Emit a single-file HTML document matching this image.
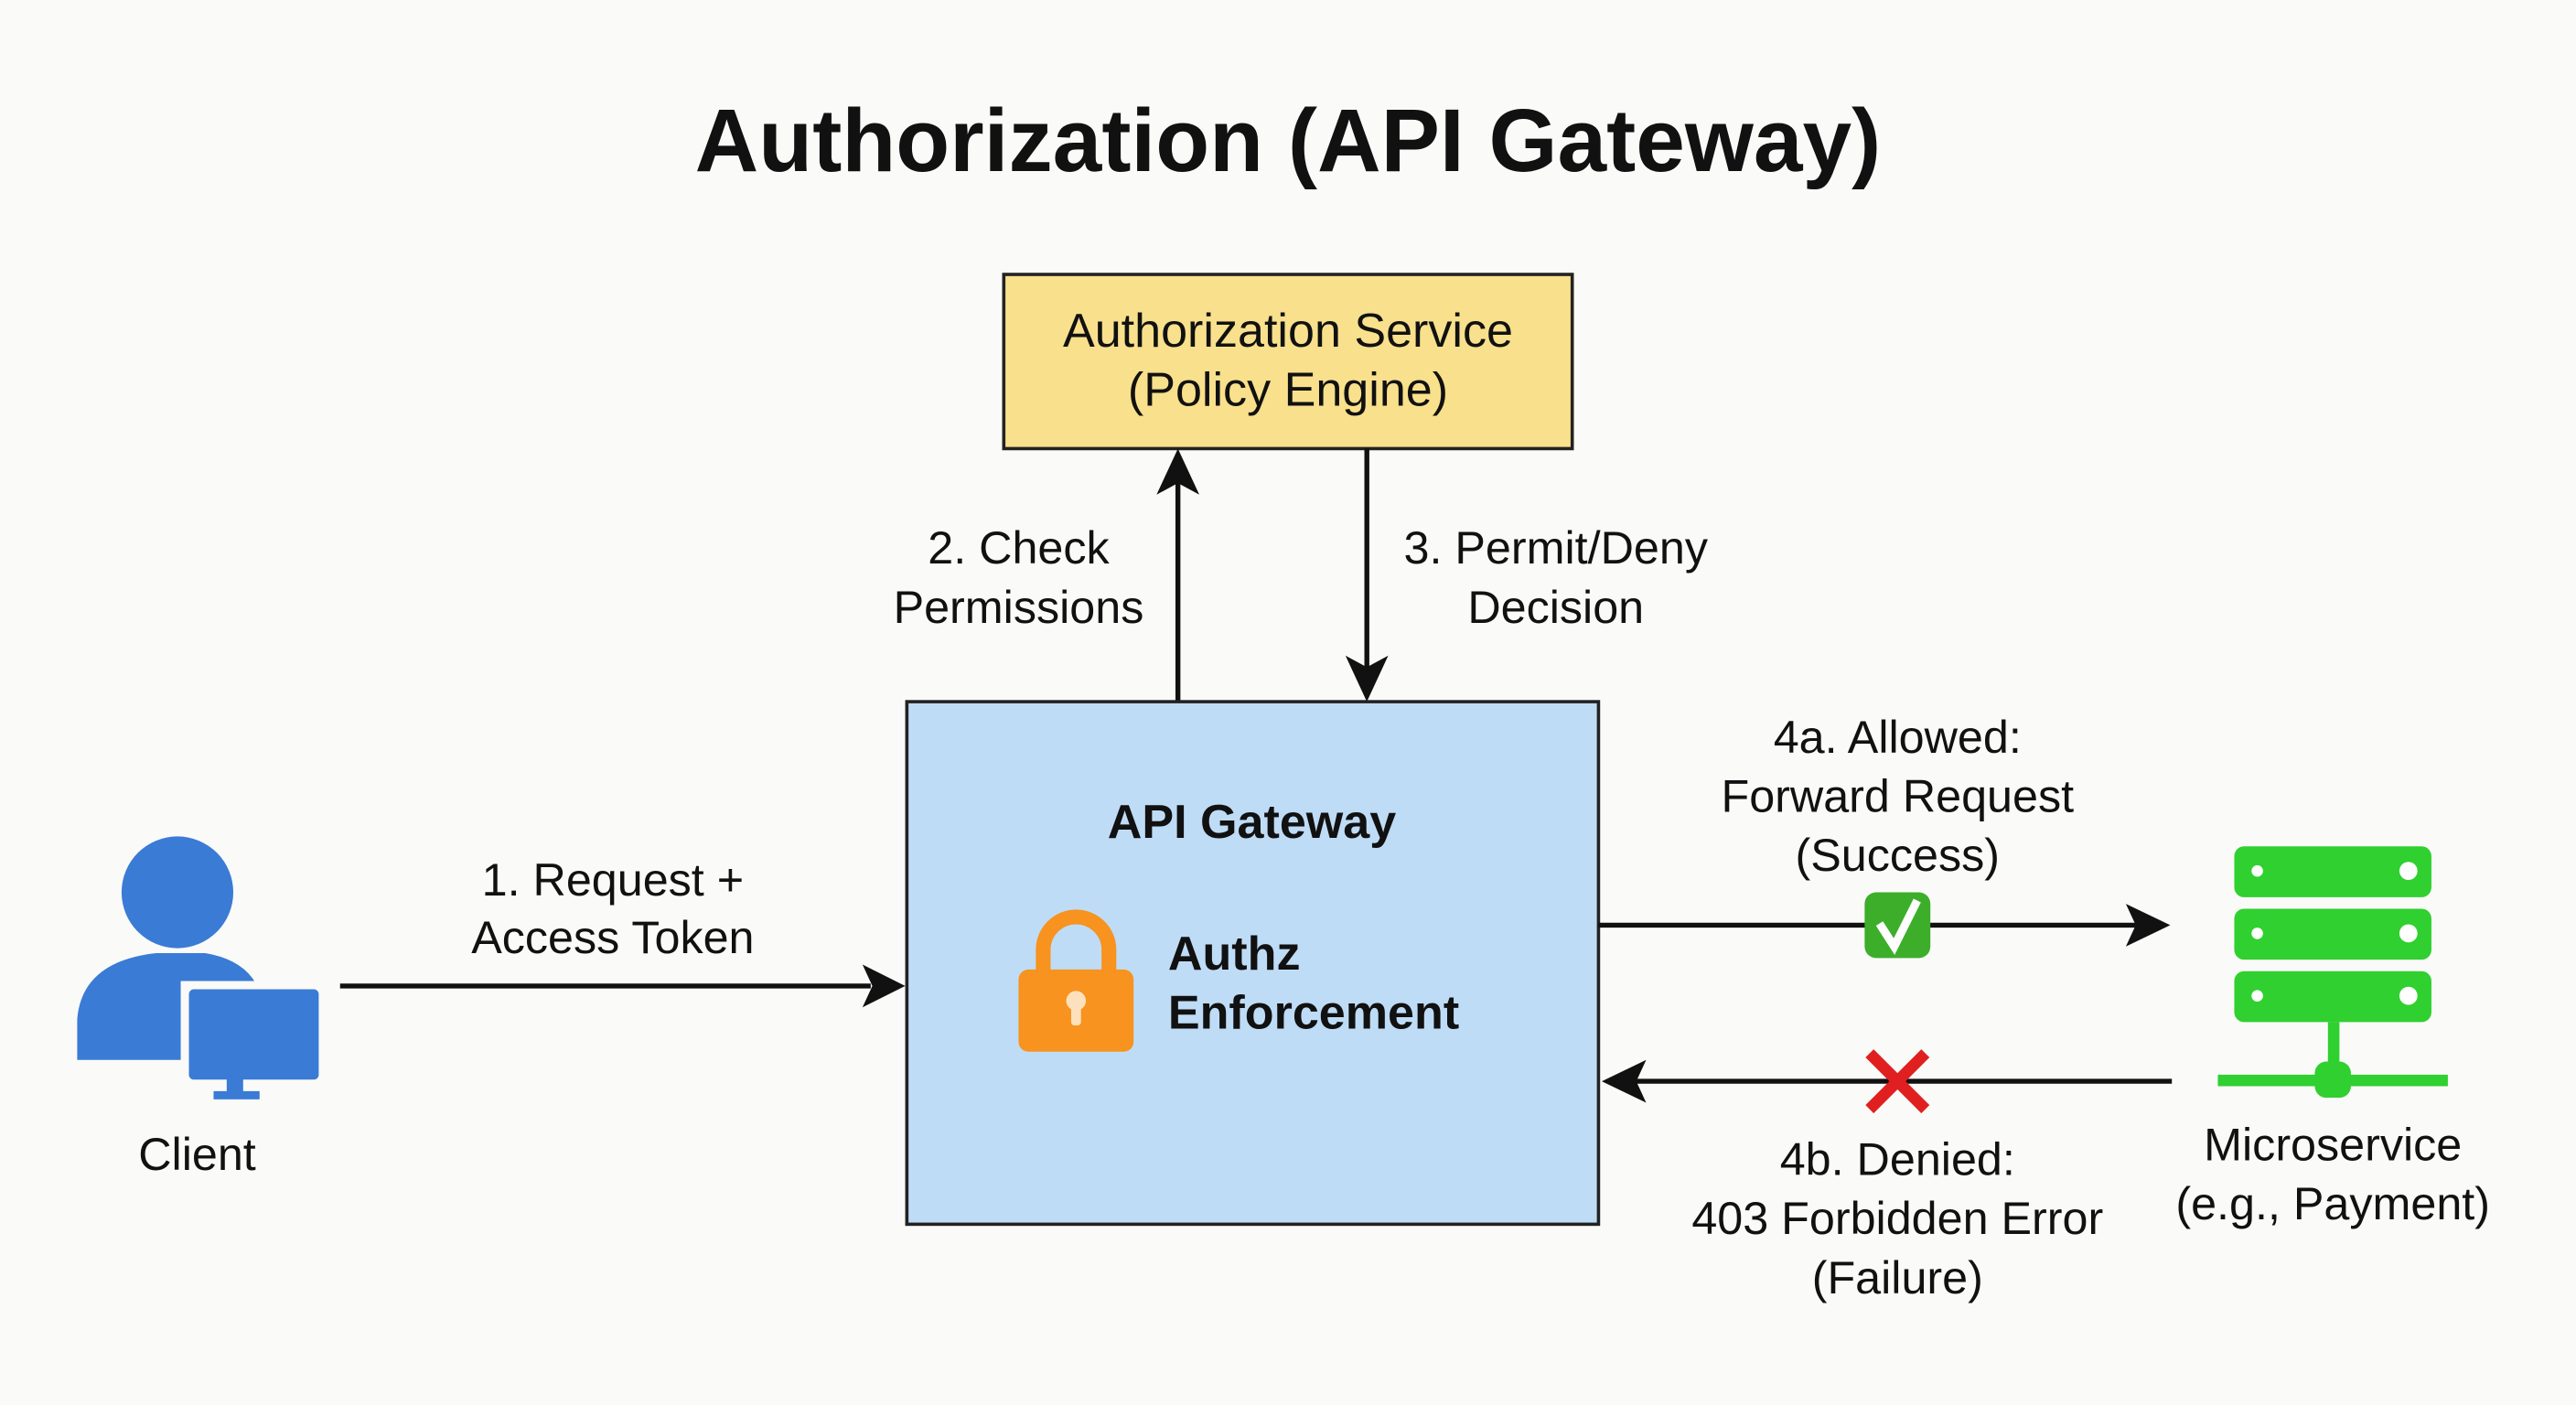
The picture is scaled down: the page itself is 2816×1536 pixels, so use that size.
<!DOCTYPE html>
<html><head><meta charset="utf-8"><style>
html,body{margin:0;padding:0;background:#fafaf8;}
svg{display:block;}
text{font-family:"Liberation Sans",Arial,sans-serif;fill:#111;}
</style></head><body>
<svg width="2816" height="1536" viewBox="0 0 1568 855" preserveAspectRatio="none" xmlns="http://www.w3.org/2000/svg">
<defs>
<marker id="ah" viewBox="0 0 10 10" refX="9" refY="5" markerWidth="9" markerHeight="9" markerUnits="userSpaceOnUse" orient="auto">
<path d="M0,0 L10,5 L0,10 L2.5,5 z" fill="#111"/></marker>
</defs>
<rect width="1568" height="855" fill="#fafaf8"/>
<text x="784" y="104" font-size="54" font-weight="bold" text-anchor="middle" textLength="722" lengthAdjust="spacingAndGlyphs">Authorization (API Gateway)</text>

<rect x="611" y="167" width="346" height="106" fill="#f9e08c" stroke="#222" stroke-width="2"/>
<text x="784" y="211" font-size="29" text-anchor="middle">Authorization Service</text>
<text x="784" y="247" font-size="29" text-anchor="middle">(Policy Engine)</text>

<!-- vertical arrows -->
<line x1="717" y1="427" x2="717" y2="278" stroke="#111" stroke-width="3"/>
<path d="M717,273 L730,301 L717,294 L704,301 z" fill="#111"/>
<line x1="832" y1="273" x2="832" y2="420" stroke="#111" stroke-width="3"/>
<path d="M832,427 L819,399 L832,406 L845,399 z" fill="#111"/>
<text x="620" y="343" font-size="28" text-anchor="middle">2. Check</text>
<text x="620" y="379" font-size="28" text-anchor="middle">Permissions</text>
<text x="947" y="343" font-size="28" text-anchor="middle">3. Permit/Deny</text>
<text x="947" y="379" font-size="28" text-anchor="middle">Decision</text>

<rect x="552" y="427" width="421" height="318" fill="#bfdcf6" stroke="#222" stroke-width="2"/>
<text x="762" y="510" font-size="29" font-weight="bold" text-anchor="middle">API Gateway</text>
<!-- lock -->
<path d="M635,595 L635,578 A20,20 0 0 1 675,578 L675,595" fill="none" stroke="#f7931e" stroke-width="9"/>
<rect x="620" y="590" width="70" height="50" rx="6" fill="#f7931e"/>
<circle cx="655" cy="609" r="6" fill="#fde1bd"/>
<rect x="652" y="610" width="6" height="14" rx="2" fill="#fde1bd"/>
<text x="711" y="590" font-size="29" font-weight="bold">Authz</text>
<text x="711" y="626" font-size="29" font-weight="bold">Enforcement</text>

<!-- client -->
<circle cx="108" cy="543" r="34" fill="#3a7bd5"/>
<path d="M47,645 L47,620 Q50,585 95,580 L125,580 Q155,585 160,610 L160,645 z" fill="#3a7bd5"/>
<rect x="110" y="597" width="90" height="66" fill="#fafaf8"/>
<rect x="115" y="602" width="79" height="55" rx="3" fill="#3a7bd5"/>
<rect x="138" y="655" width="10" height="10" fill="#3a7bd5"/>
<rect x="130" y="664" width="28" height="5" fill="#3a7bd5"/>
<text x="120" y="712" font-size="28" text-anchor="middle">Client</text>

<!-- arrow 1 -->
<line x1="207" y1="600" x2="530" y2="600" stroke="#111" stroke-width="3"/>
<path d="M551,600 L525,587 L531,600 L525,613 z" fill="#111"/>
<text x="373" y="545" font-size="28" text-anchor="middle">1. Request +</text>
<text x="373" y="580" font-size="28" text-anchor="middle">Access Token</text>

<!-- arrow 4a -->
<line x1="973" y1="563" x2="1300" y2="563" stroke="#111" stroke-width="3"/>
<path d="M1321,563 L1294,550 L1300,563 L1294,576 z" fill="#111"/>
<rect x="1135" y="543" width="40" height="40" rx="7" fill="#3cae2a"/>
<path d="M1144,562 L1153,576 L1167,548" fill="none" stroke="#fff" stroke-width="5"/>
<text x="1155" y="458" font-size="28" text-anchor="middle">4a. Allowed:</text>
<text x="1155" y="494" font-size="28" text-anchor="middle">Forward Request</text>
<text x="1155" y="530" font-size="28" text-anchor="middle">(Success)</text>

<!-- arrow 4b -->
<line x1="1322" y1="658" x2="995" y2="658" stroke="#111" stroke-width="3"/>
<path d="M975,658 L1002,645 L996,658 L1002,671 z" fill="#111"/>
<path d="M1138,641 L1172,675 M1172,641 L1138,675" stroke="#e02020" stroke-width="7"/>
<text x="1155" y="715" font-size="28" text-anchor="middle">4b. Denied:</text>
<text x="1155" y="751" font-size="28" text-anchor="middle">403 Forbidden Error</text>
<text x="1155" y="787" font-size="28" text-anchor="middle">(Failure)</text>

<!-- server -->
<g fill="#2fd02f">
<rect x="1360" y="515" width="120" height="31" rx="6"/>
<rect x="1360" y="553" width="120" height="31" rx="6"/>
<rect x="1360" y="591" width="120" height="31" rx="6"/>
<rect x="1417" y="622" width="7" height="35"/>
<rect x="1350" y="654" width="140" height="7"/>
<rect x="1409" y="646" width="22" height="22" rx="7"/>
</g>
<g fill="#fff">
<circle cx="1374" cy="530" r="3.5"/><circle cx="1466" cy="530" r="5.5"/>
<circle cx="1374" cy="568" r="3.5"/><circle cx="1466" cy="568" r="5.5"/>
<circle cx="1374" cy="606" r="3.5"/><circle cx="1466" cy="606" r="5.5"/>
</g>
<text x="1420" y="706" font-size="28" text-anchor="middle">Microservice</text>
<text x="1420" y="742" font-size="28" text-anchor="middle">(e.g., Payment)</text>
</svg>
</body></html>
